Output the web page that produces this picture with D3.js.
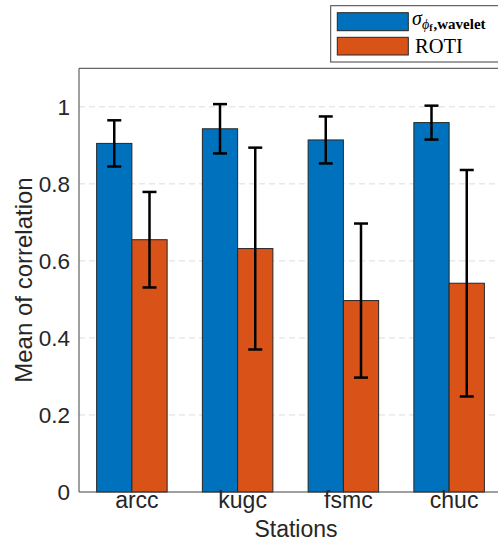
<!DOCTYPE html>
<html><head><meta charset="utf-8">
<script src="https://cdn.jsdelivr.net/npm/d3@7"></script>
<style>body{margin:0;background:#fff;} svg{display:block;}</style>
</head><body>
<svg id="c" width="498" height="542"></svg>
<script>
const stations = ["arcc", "kugc", "fsmc", "chuc"];
const seriesNames = ["wavelet", "ROTI"];
const waveletMean = [0.905, 0.943, 0.914, 0.959];
const waveletErr  = [0.060, 0.064, 0.061, 0.044];
const rotiMean    = [0.655, 0.632, 0.497, 0.542];
const rotiErr     = [0.124, 0.262, 0.200, 0.294];
const yTicks = [0, 0.2, 0.4, 0.6, 0.8, 1];
const yTickLabels = ["0", "0.2", "0.4", "0.6", "0.8", "1"];
const colors = ["#0072BD", "#D95319"];

const svg = d3.select("#c");
const L = 79, R = 502, T = 68.3, B = 492;
const x0 = d3.scaleBand().domain(stations).range([L, R]).paddingInner(1/3).paddingOuter(1/6);
const x1 = d3.scaleBand().domain(seriesNames).range([0, x0.bandwidth()]);
const y = d3.scaleLinear().domain([0, 1.1]).range([B, T]);

// grid
svg.append("g").selectAll("line").data(yTicks.filter(d => d > 0)).join("line")
  .attr("x1", L).attr("x2", R).attr("y1", d => y(d)).attr("y2", d => y(d))
  .attr("stroke", "#dcdcdc").attr("stroke-width", 1).attr("stroke-dasharray", "6,4");

const data = stations.map((s, i) => [
  {s, k: "wavelet", m: waveletMean[i], e: waveletErr[i], c: colors[0]},
  {s, k: "ROTI", m: rotiMean[i], e: rotiErr[i], c: colors[1]}
]).flat();

svg.append("g").selectAll("rect").data(data).join("rect")
  .attr("x", d => x0(d.s) + x1(d.k)).attr("width", x1.bandwidth())
  .attr("y", d => y(d.m)).attr("height", d => y(0) - y(d.m))
  .attr("fill", d => d.c).attr("stroke", "#262626").attr("stroke-width", 1);

const eg = svg.append("g").attr("stroke", "#000").attr("stroke-width", 2.5).attr("fill", "none");
data.forEach(d => {
  const cx = x0(d.s) + x1(d.k) + x1.bandwidth() / 2;
  const cw = 7;
  eg.append("line").attr("x1", cx).attr("x2", cx).attr("y1", y(d.m + d.e)).attr("y2", y(d.m - d.e));
  eg.append("line").attr("x1", cx - cw).attr("x2", cx + cw).attr("y1", y(d.m + d.e)).attr("y2", y(d.m + d.e));
  eg.append("line").attr("x1", cx - cw).attr("x2", cx + cw).attr("y1", y(d.m - d.e)).attr("y2", y(d.m - d.e));
});

// axes box
const ax = svg.append("g").attr("stroke", "#404040").attr("stroke-width", 1);
ax.append("line").attr("x1", L).attr("x2", L).attr("y1", T).attr("y2", B);
ax.append("line").attr("x1", L).attr("x2", R).attr("y1", B).attr("y2", B);
ax.append("line").attr("x1", L).attr("x2", R).attr("y1", T).attr("y2", T);
ax.append("line").attr("x1", R).attr("x2", R).attr("y1", T).attr("y2", B);

// y tick labels
svg.append("g").selectAll("text").data(yTicks).join("text")
  .attr("x", 70).attr("y", d => y(d)).attr("dy", "0.36em")
  .attr("text-anchor", "end").attr("font-family", "Liberation Sans, Arial, sans-serif")
  .attr("font-size", 22.5).attr("fill", "#262626")
  .text((d, i) => yTickLabels[i]);

// x tick labels
svg.append("g").selectAll("text").data(stations).join("text")
  .attr("x", d => x0(d) + x0.bandwidth() / 2 + 5).attr("y", 508)
  .attr("text-anchor", "middle").attr("font-family", "Liberation Sans, Arial, sans-serif")
  .attr("font-size", 23).attr("fill", "#262626").text(d => d);

// axis titles
svg.append("text").attr("x", 296).attr("y", 537).attr("text-anchor", "middle")
  .attr("font-family", "Liberation Sans, Arial, sans-serif").attr("font-size", 23).attr("fill", "#262626")
  .text("Stations");
svg.append("text").attr("transform", "translate(32,280) rotate(-90)").attr("text-anchor", "middle")
  .attr("font-family", "Liberation Sans, Arial, sans-serif").attr("font-size", 24).attr("fill", "#262626")
  .text("Mean of correlation");

// legend
const lg = svg.append("g");
lg.append("rect").attr("x", 330.7).attr("y", 5.7).attr("width", 180).attr("height", 56.3)
  .attr("fill", "#fff").attr("stroke", "#404040").attr("stroke-width", 1);
lg.append("rect").attr("x", 337.3).attr("y", 12.7).attr("width", 71).attr("height", 18)
  .attr("fill", colors[0]).attr("stroke", "#262626");
lg.append("rect").attr("x", 337.3).attr("y", 37.3).attr("width", 71).attr("height", 17.7)
  .attr("fill", colors[1]).attr("stroke", "#262626");
const t1 = lg.append("text").attr("x", 412).attr("y", 25)
  .attr("font-family", "Liberation Serif, Times New Roman, serif").attr("fill", "#000");
t1.append("tspan").attr("font-size", 20).attr("font-style", "italic").text("σ");
t1.append("tspan").attr("font-size", 14).attr("font-style", "italic").attr("dy", 4).text("ϕ");
t1.append("tspan").attr("font-size", 10).attr("font-weight", "bold").attr("dy", 2).text("f");
t1.append("tspan").attr("font-size", 15).attr("font-weight", "bold").attr("dy", -2).attr("dx", 1).text(",wavelet");
lg.append("text").attr("x", 415).attr("y", 52.5)
  .attr("font-family", "Liberation Serif, Times New Roman, serif").attr("font-size", 20.5).attr("fill", "#000")
  .text("ROTI");
</script>
</body></html>
